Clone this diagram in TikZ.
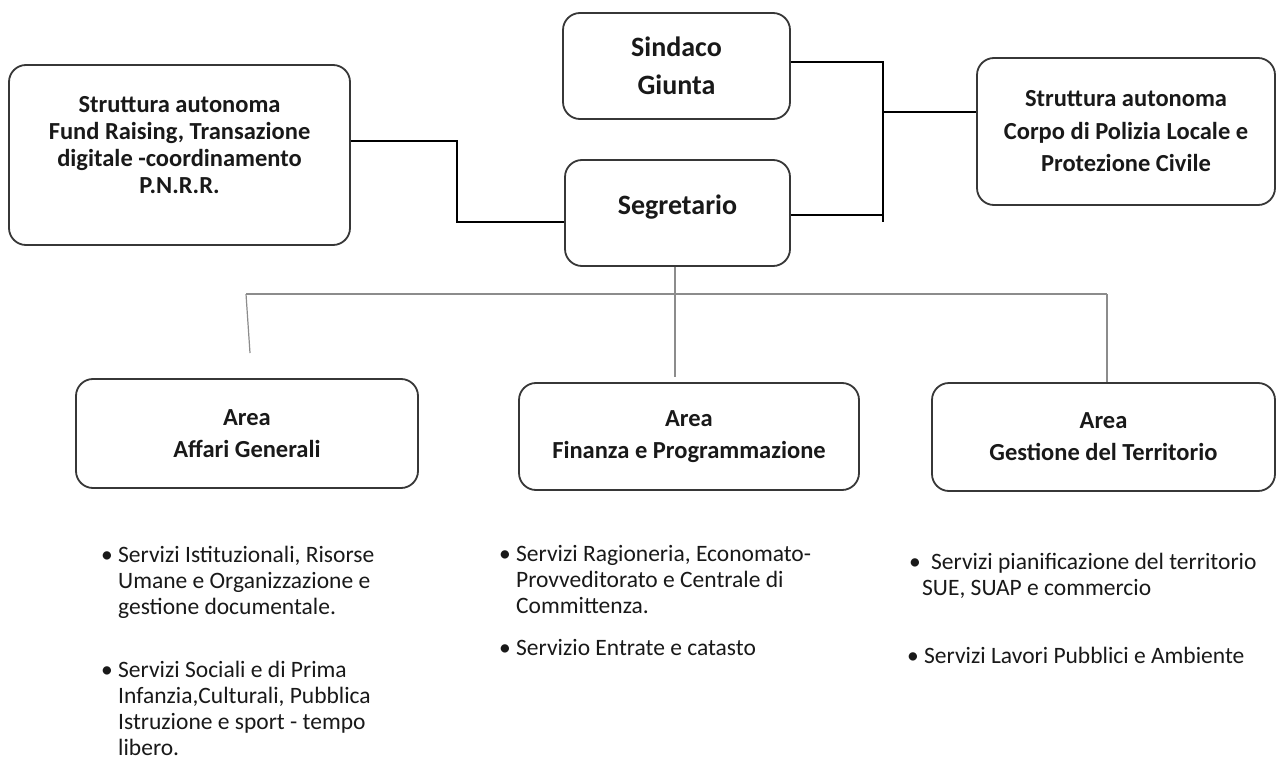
\documentclass[tikz,border=0pt]{standalone}
\usepackage{fontspec}
\setmainfont{Carlito}
\definecolor{boxline}{RGB}{55,55,55}
\definecolor{treeline}{RGB}{140,140,140}
\definecolor{txt}{RGB}{25,25,25}
\newcommand\bfnt{\fontsize{24.5}{27}\selectfont\bfseries}
\newcommand\bigbfnt{\fontsize{28}{30}\selectfont\bfseries}
\newcommand\rfnt{\fontsize{23.5}{26}\selectfont}
\begin{document}
\begin{tikzpicture}[x=1pt,y=-1pt,
  box/.style={draw=boxline, line width=1.8pt, rounded corners=17pt, align=center, font=\bfnt, text=txt, inner sep=0pt},
  btext/.style={align=center, font=\bfnt, text=txt, inner sep=0pt},
  conn/.style={draw=black, line width=2.6pt},
  tree/.style={draw=treeline, line width=1.2pt},
  li/.style={anchor=base west, inner sep=0pt, font=\rfnt, text=txt},
  bul/.style={anchor=base, inner sep=0pt, font=\rfnt, text=txt}]
\fill[white] (0,0) rectangle (1278,760);
\useasboundingbox (0,0) rectangle (1278,760);

% top boxes
\node[box, minimum width=341pt, minimum height=180pt] (lbox) at (179.5,155) {};
\node[btext] (lboxt) at (179.5,145) {Struttura autonoma\\Fund Raising, Transazione\\digitale -coordinamento\\P.N.R.R.};
\node[box, font=\bigbfnt, minimum width=227pt, minimum height=106pt] (sind) at (676.5,66) {Sindaco\\[8pt]Giunta};
\node[box, minimum width=225pt, minimum height=106pt] (segr) at (677.5,213) {};
\node[btext, font=\bigbfnt] (segrt) at (677.5,207) {Segretario};
\node[box, minimum width=298pt, minimum height=147pt] (rbox) at (1126,131.5) {Struttura autonoma\\[5.5pt]Corpo di Polizia Locale e\\[5.5pt]Protezione Civile};

% area boxes
\node[box, minimum width=342pt, minimum height=109pt] (aff) at (247,433.5) {Area\\[5pt]Affari Generali};
\node[box, minimum width=340pt, minimum height=107pt] (fin) at (689,436.5) {Area\\[5pt]Finanza e Programmazione};
\node[box, minimum width=343pt, minimum height=108pt] (ges) at (1103.5,437) {Area\\[5pt]Gestione del Territorio};

% thick connectors
\coordinate (lk) at (457,141);
\draw[conn] ([yshift=14pt]lbox.east) -- (lk) |- ([yshift=-9pt]segr.west);
\coordinate (jt) at (883,62);
\coordinate (jb) at (883,222);
\coordinate (jm) at (883,112);
\draw[conn] ([yshift=4pt]sind.east) -- (jt) -- (jb);
\draw[conn] ([yshift=-2pt]segr.east) -- (883,215);
\draw[conn] (jm) -- (jm -| rbox.west);

% tree lines
\coordinate (gl) at (246,294);
\coordinate (gr) at (1107,294);
\coordinate (ga) at (250,353);
\coordinate (gm) at (675,377);
\draw[tree] (gl) -- (gr);
\draw[tree] (gl) -- (ga);
\draw[tree] ([xshift=-2.5pt]segr.south) -- (gm);
\draw[tree] (gr) -- (gr |- ges.north);

% column 1
\node[bul] (c1b1) at (107,562) {•};
\node[li] (c1l1) at (118,562) {Servizi Istituzionali, Risorse};
\node[li] (c1l2) at (118,588) {Umane e Organizzazione e};
\node[li] (c1l3) at (118,614) {gestione documentale.};
\node[bul] (c1b2) at (107,677) {•};
\node[li] (c1l4) at (118,677) {Servizi Sociali e di Prima};
\node[li] (c1l5) at (118,703) {Infanzia,Culturali, Pubblica};
\node[li] (c1l6) at (118,729) {Istruzione e sport - tempo};
\node[li] (c1l7) at (118,755) {libero.};

% column 2
\node[bul] (c2b1) at (505,561) {•};
\node[li] (c2l1) at (516,561) {Servizi Ragioneria, Economato-};
\node[li] (c2l2) at (516,587) {Provveditorato e Centrale di};
\node[li] (c2l3) at (516,613) {Committenza.};
\node[bul] (c2b2) at (505,655) {•};
\node[li] (c2l4) at (516,655) {Servizio Entrate e catasto};

% column 3
\node[bul] (c3b1) at (915,569) {•};
\node[li] (c3l1) at (931,569) {Servizi pianificazione del territorio};
\node[li] (c3l2) at (922,595) {SUE, SUAP e commercio};
\node[bul] (c3b2) at (913,663) {•};
\node[li] (c3l3) at (924,663) {Servizi Lavori Pubblici e Ambiente};
\end{tikzpicture}
\end{document}
